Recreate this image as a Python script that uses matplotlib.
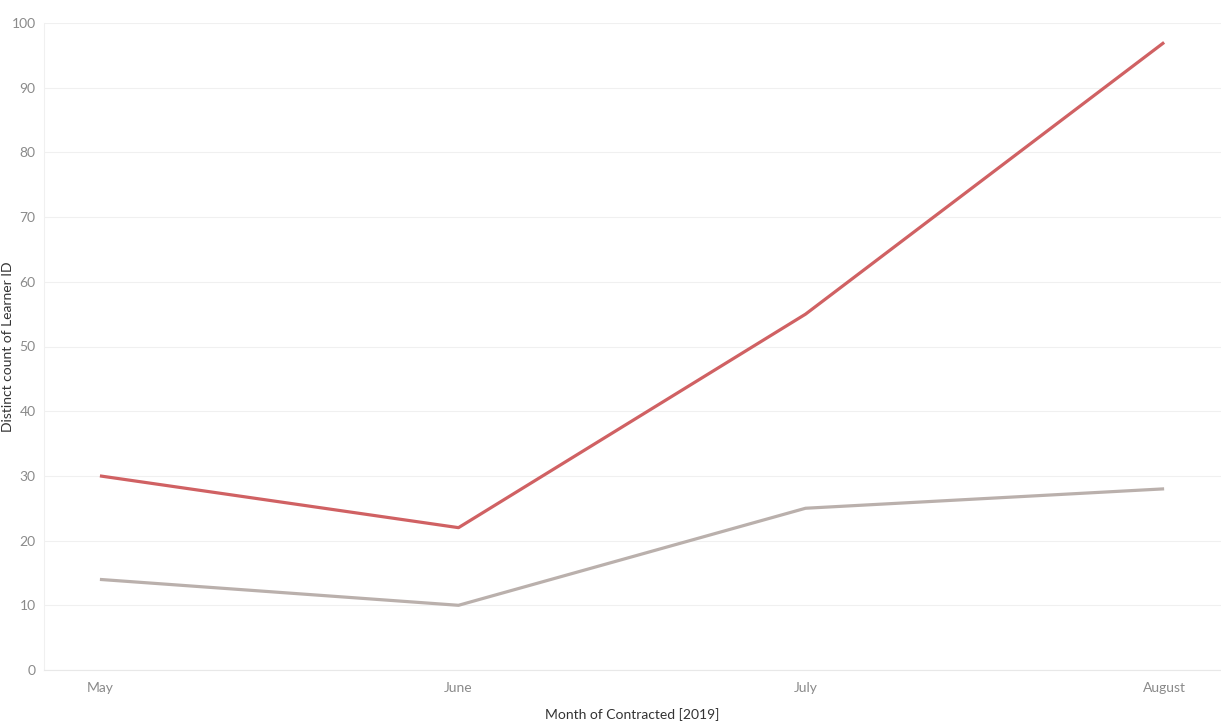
import matplotlib.pyplot as plt
import numpy as np

months = ['2019-05-01', '2019-06-01', '2019-07-01', '2019-08-01']
month_labels = ['May', 'June', 'July', 'August']
red_counts = [30, 22, 55, 97]
gray_counts = [14, 10, 25, 28]

dates = np.array(months, dtype='datetime64[D]')

plt.rcParams['font.family'] = ['Lato', 'DejaVu Sans']
fig = plt.figure(figsize=(12.21, 7.28), dpi=100)
ax = fig.add_axes([44 / 1221, 1 - 670 / 728, (1221 - 44) / 1221, (670 - 23) / 728])

ax.plot(dates, red_counts, color='#d06163', lw=2.3, solid_capstyle='butt', zorder=3)
ax.plot(dates, gray_counts, color='#bab0ac', lw=2.3, solid_capstyle='butt', zorder=3)

ax.set_xlim(dates[0] - np.timedelta64(116, 'h'), dates[-1] + np.timedelta64(118, 'h'))
ax.set_ylim(0, 100)
ax.set_yticks(range(0, 101, 10))
ax.set_xticks(dates)
ax.set_xticklabels(month_labels)
ax.grid(axis='y', color='#f0f0f0', lw=0.8)
ax.set_axisbelow(True)
for s in ['top', 'right']:
    ax.spines[s].set_visible(False)
ax.spines['left'].set_color('#f0f0f0')
ax.spines['bottom'].set_color('#e8e8e8')
ax.tick_params(axis='both', length=0, labelcolor='#8a8a8a', labelsize=10)
ax.tick_params(axis='x', pad=9)
ax.tick_params(axis='y', pad=6)

ax.set_xlabel('Month of Contracted [2019]', fontsize=10, color='#333333', labelpad=10)
ax.set_ylabel('Distinct count of Learner ID', fontsize=10, color='#333333',
              family=['Liberation Sans Narrow', 'Lato', 'DejaVu Sans'])
ax.yaxis.set_label_coords(-30 / 1177, 0.5)

fig.savefig('out.png', dpi=100)
